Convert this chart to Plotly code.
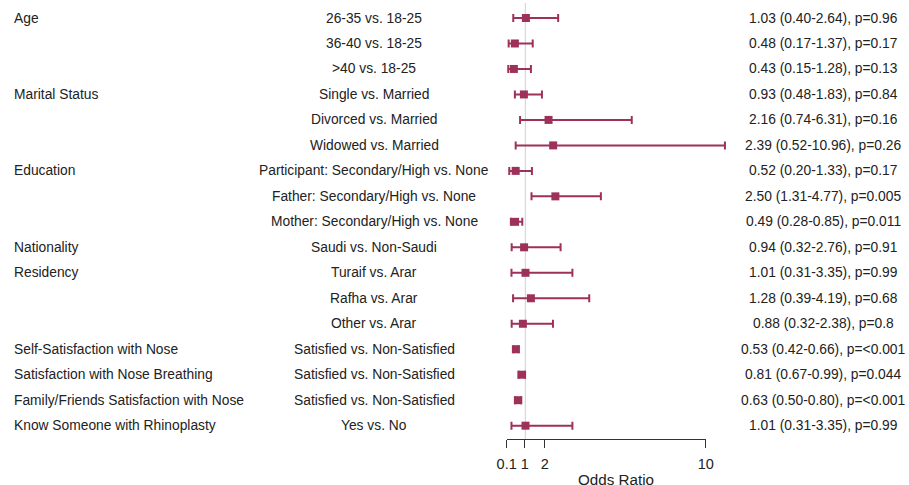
import plotly.graph_objects as go

# Odds ratios with 95% confidence intervals for each comparison
groups = ["Age", "", "", "Marital Status", "", "", "Education", "", "",
          "Nationality", "Residency", "", "",
          "Self-Satisfaction with Nose", "Satisfaction with Nose Breathing",
          "Family/Friends Satisfaction with Nose", "Know Someone with Rhinoplasty"]
comparisons = ["26-35 vs. 18-25", "36-40 vs. 18-25", ">40 vs. 18-25",
               "Single vs. Married", "Divorced vs. Married", "Widowed vs. Married",
               "Participant: Secondary/High vs. None", "Father: Secondary/High vs. None",
               "Mother: Secondary/High vs. None", "Saudi vs. Non-Saudi",
               "Turaif vs. Arar", "Rafha vs. Arar", "Other vs. Arar",
               "Satisfied vs. Non-Satisfied", "Satisfied vs. Non-Satisfied",
               "Satisfied vs. Non-Satisfied", "Yes vs. No"]
odds_ratio = [1.03, 0.48, 0.43, 0.93, 2.16, 2.39, 0.52, 2.50, 0.49, 0.94,
              1.01, 1.28, 0.88, 0.53, 0.81, 0.63, 1.01]
ci_lower = [0.40, 0.17, 0.15, 0.48, 0.74, 0.52, 0.20, 1.31, 0.28, 0.32,
            0.31, 0.39, 0.32, 0.42, 0.67, 0.50, 0.31]
ci_upper = [2.64, 1.37, 1.28, 1.83, 6.31, 10.96, 1.33, 4.77, 0.85, 2.76,
            3.35, 4.19, 2.38, 0.66, 0.99, 0.80, 3.35]
p_values = ["0.96", "0.17", "0.13", "0.84", "0.16", "0.26", "0.17", "0.005",
            "0.011", "0.91", "0.99", "0.68", "0.8", "<0.001", "0.044", "<0.001", "0.99"]
tick_vals = [0.1, 1, 2, 10]
tick_text = ["0.1", "1", "2", "10"]

W, H = 909, 485
FONT = "Liberation Sans, Arial, sans-serif"
TEXT_COLOR = "#222222"
MARK_COLOR = "#9e3159"

rows = list(range(len(odds_ratio)))
row_top, row_step = 18.0, 25.48

# linear data scale: 1 -> 525.3 px, 10 -> 705.7 px
px_per_unit = (705.7 - 525.3) / 9.0
x0 = 1 - 525.3 / px_per_unit
x1 = x0 + W / px_per_unit

fig = go.Figure()
fig.add_trace(go.Scatter(
    x=odds_ratio, y=rows, mode="markers",
    marker=dict(symbol="square", size=8, color=MARK_COLOR),
    error_x=dict(type="data", symmetric=False,
                 array=[u - o for u, o in zip(ci_upper, odds_ratio)],
                 arrayminus=[o - l for o, l in zip(odds_ratio, ci_lower)],
                 color=MARK_COLOR, thickness=2, width=4),
    hoverinfo="skip", showlegend=False, cliponaxis=False,
))
# carrier trace for the bottom odds-ratio axis
fig.add_trace(go.Scatter(x=[1], y=[0], xaxis="x2", yaxis="y", mode="markers",
                         marker=dict(opacity=0), hoverinfo="skip", showlegend=False))

axis_y_px = 439.0
fig.add_shape(type="line", xref="x", yref="paper", x0=1, x1=1,
              y0=1 - axis_y_px / H, y1=1 - 3 / H,
              line=dict(color="#cfcfcf", width=1), layer="below")

annotations = []
for r, (g, c, o, lo, hi, p) in enumerate(zip(groups, comparisons, odds_ratio,
                                              ci_lower, ci_upper, p_values)):
    if g:
        annotations.append(dict(x=12 / W, y=r, xref="paper", yref="y", text=g,
                                xanchor="left", yanchor="middle", showarrow=False))
    annotations.append(dict(x=374 / W, y=r, xref="paper", yref="y", text=c,
                            xanchor="center", yanchor="middle", showarrow=False))
    annotations.append(dict(x=823 / W, y=r, xref="paper", yref="y",
                            text=f"{o:.2f} ({lo:.2f}-{hi:.2f}), p={p}",
                            xanchor="center", yanchor="middle", showarrow=False))
annotations.append(dict(x=616 / W, y=1 - 479.5 / H, xref="paper", yref="paper",
                        text="Odds Ratio", xanchor="center", yanchor="middle",
                        showarrow=False, font=dict(size=15.2)))

fig.update_layout(
    template="none",
    width=W, height=H,
    margin=dict(l=0, r=0, t=0, b=0, pad=0),
    paper_bgcolor="white", plot_bgcolor="rgba(0,0,0,0)",
    font=dict(family=FONT, size=13.8, color=TEXT_COLOR),
    xaxis=dict(range=[x0, x1], domain=[0, 1], visible=False, automargin=False),
    xaxis2=dict(range=[0.1, 10], domain=[506.7 / W, 705.7 / W], anchor="free",
                position=1 - axis_y_px / H, showline=True, linecolor="#333333",
                linewidth=1, ticks="outside", ticklen=8, tickcolor="#333333",
                tickvals=tick_vals, ticktext=tick_text, showgrid=False,
                zeroline=False, automargin=False, ticklabelstandoff=4,
                tickfont=dict(size=14.5, color=TEXT_COLOR)),
    yaxis=dict(range=[(H - row_top) / row_step, -row_top / row_step],
               domain=[0, 1], visible=False, automargin=False),
    annotations=annotations,
)

fig.write_html("out.html")
